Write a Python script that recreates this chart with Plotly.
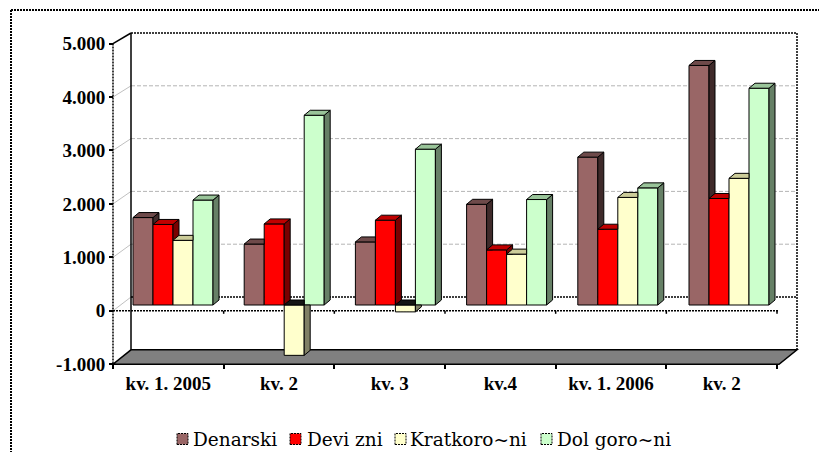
import plotly.graph_objects as go

# ---------------- data ----------------
categories = ["kv. 1. 2005", "kv. 2", "kv. 3", "kv.4", "kv. 1. 2006", "kv. 2"]
series_names = ["Denarski", "Devi zni", "Kratkoro~ni", "Dol goro~ni"]
denarski = [1650, 1150, 1190, 1900, 2790, 4520]
devizni = [1520, 1530, 1600, 1040, 1430, 2010]
kratkorocni = [1220, -950, -130, 960, 2030, 2390]
dolgorocni = [1980, 3580, 2940, 1990, 2210, 4090]
y_tick_values = [-1000, 0, 1000, 2000, 3000, 4000, 5000]
y_tick_labels = ["-1.000", "0", "1.000", "2.000", "3.000", "4.000", "5.000"]

series_values = [denarski, devizni, kratkorocni, dolgorocni]
front_colors = ["#996666", "#FF0000", "#FFFFCC", "#CCFFCC"]
top_colors = ["#6e4a4a", "#c00000", "#cccc99", "#99c499"]
side_colors = ["#3f2a2a", "#7a0000", "#808066", "#668066"]
neg_top_color = "#151515"

# ---------------- geometry (screen pixels) ----------------
W, H = 827, 452
OFF = 8  # page body margin: the figure starts at (8, 8) on screen
FW, FH = W - OFF, H - OFF
BAR = dict(x0=173.0, xs=111.2, y0=305.0, ys=0.053)       # plane of bars
FRONT = dict(x0=168.33, xs=110.67, y0=310.8, ys=0.05345)  # front edge (axis labels)
BACK = dict(x0=186.5, xs=111.0, y0=297.0, ys=0.0528)     # back wall
VMIN, VMAX = -1000, 5000
NCAT = len(categories)


def px(plane, u):
    return plane["x0"] + plane["xs"] * u


def py(plane, v):
    return plane["y0"] - plane["ys"] * v


def xr(plane):
    return [(OFF - plane["x0"]) / plane["xs"], (W - plane["x0"]) / plane["xs"]]


def yr(plane):
    return [(plane["y0"] - H) / plane["ys"], (plane["y0"] - OFF) / plane["ys"]]


def fx(p):
    return (p - OFF) / FW


def fy(p):
    return 1 - (p - OFF) / FH


bar_w = 20.0 / BAR["xs"]
group_w = bar_w * len(series_values)
DX = 6.0 / BAR["xs"]
DY = 5.0 / BAR["ys"]


def clean(poly):
    out = []
    for p in poly:
        if not out or abs(out[-1][0] - p[0]) > 1e-9 or abs(out[-1][1] - p[1]) > 1e-6:
            out.append(p)
    return out


def side_pieces(R, B, T, lo, hi):
    full = [(R, B), (R + DX, B + DY), (R + DX, T + DY), (R, T)]
    if lo is None:
        return [full]
    ts = {0.0, 1.0}
    for c in (lo, hi):
        for base in (B, T):
            t = (c - base) / DY
            if 0 < t < 1:
                ts.add(t)
    ts = sorted(ts)
    pieces = []
    up = lambda t: T + t * DY
    low = lambda t: max(B + t * DY, hi)
    up2 = lambda t: min(T + t * DY, lo)
    low2 = lambda t: B + t * DY
    for u_f, l_f in ((up, low), (up2, low2)):
        valid = [t for t in ts if u_f(t) >= l_f(t) - 1e-9]
        if len(valid) >= 2 and max(u_f(t) - l_f(t) for t in valid) > 1e-6:
            poly = [(R + t * DX, l_f(t)) for t in valid] + [(R + t * DX, u_f(t)) for t in reversed(valid)]
            pieces.append(clean(poly))
    return pieces


def top_piece(L, R, h, hi):
    if hi is None or hi <= h:
        return [(L, h), (R, h), (R + DX, h + DY), (L + DX, h + DY)]
    if hi >= h + DY:
        return [(L, h), (R, h), (R, h + DY), (L + DX, h + DY)]
    tk = (hi - h) / DY
    return [(L, h), (R, h), (R, hi), (R + tk * DX, hi), (R + DX, h + DY), (L + DX, h + DY)]


def poly_trace(polys, color):
    xs, ys = [], []
    for poly in polys:
        for (a, b) in poly + [poly[0]]:
            xs.append(a)
            ys.append(b)
        xs.append(None)
        ys.append(None)
    return go.Scatter(x=xs, y=ys, mode="lines", fill="toself", fillcolor=color,
                      line=dict(color="black", width=1), hoverinfo="skip",
                      showlegend=False, xaxis="x", yaxis="y")


fig = go.Figure()

# front faces of bars
for s, vals in enumerate(series_values):
    fig.add_trace(go.Bar(x=list(range(NCAT)), y=vals, name=series_names[s],
                         marker=dict(color=front_colors[s], line=dict(color="black", width=1)),
                         xaxis="x", yaxis="y", showlegend=False))

# side and top faces
for s, vals in enumerate(series_values):
    sides, tops, negtops = [], [], []
    for k in range(NCAT):
        v = vals[k]
        L = k - group_w / 2 + s * bar_w
        R = L + bar_w
        if s < len(series_values) - 1:
            nv = series_values[s + 1][k]
            lo, hi = min(0, nv), max(0, nv)
        else:
            lo = hi = None
        B, T = min(0, v), max(0, v)
        sides.extend(side_pieces(R, B, T, lo, hi))
        tp = top_piece(L, R, T, hi)
        (negtops if v < 0 else tops).append(tp)
    fig.add_trace(poly_trace(sides, side_colors[s]))
    fig.add_trace(poly_trace(tops, top_colors[s]))
    if negtops:
        fig.add_trace(poly_trace(negtops, neg_top_color))

# dummy trace on the front axes
fig.add_trace(go.Scatter(x=[0], y=[0], mode="markers", marker=dict(opacity=0),
                         xaxis="x2", yaxis="y2", hoverinfo="skip", showlegend=False))

# ---------------- walls, floor, lines (decoration) ----------------
shapes = []
DOT = "2px,1px"


def line(x0, y0, x1, y1, color="black", width=1, dash="solid", layer="below"):
    shapes.append(dict(type="line", xref="paper", yref="paper",
                       x0=fx(x0), y0=fy(y0), x1=fx(x1), y1=fy(y1),
                       line=dict(color=color, width=width, dash=dash), layer=layer))


fl, fr = px(FRONT, -0.5), px(FRONT, NCAT - 0.5)
bl, br = px(BACK, -0.5), px(BACK, NCAT - 0.5)

for v in y_tick_values:
    if 0 < v < VMAX:
        line(bl, py(BACK, v), br, py(BACK, v), color="#b4b4b4", width=1, dash="4px,2px")
    if VMIN < v < VMAX:
        line(fl, py(FRONT, v), bl, py(BACK, v), color="#c0c0c0", width=1)

shapes.append(dict(type="path", xref="paper", yref="paper", layer="below",
                   path="M {},{} L {},{} L {},{} L {},{} Z".format(
                       fx(fl), fy(py(FRONT, VMIN)), fx(fr + 2), fy(py(FRONT, VMIN)),
                       fx(br), fy(py(BACK, VMIN)), fx(bl), fy(py(BACK, VMIN))),
                   fillcolor="#808080", line=dict(color="black", width=1.5)))

line(bl, py(BACK, 0), br, py(BACK, 0), width=1.5, dash=DOT)
line(fl, py(FRONT, 0), fr + 2, py(FRONT, 0), width=1.5, dash=DOT)
for k in range(1, NCAT + 1):
    xx = px(FRONT, k - 0.5)
    line(xx, py(FRONT, 0), xx, py(FRONT, 0) + 3, width=1.5)

line(bl, py(BACK, VMAX), br, py(BACK, VMAX), width=1.5, dash=DOT)
line(br, py(BACK, VMAX), br, py(BACK, VMIN), width=1.5, dash=DOT)
line(bl, py(BACK, VMAX), bl, py(BACK, VMIN), width=1.5)
line(fl, py(FRONT, VMAX), bl, py(BACK, VMAX), width=1.5)
line(fl, py(FRONT, VMAX), fl, py(FRONT, VMIN), width=1.5, dash=DOT)

# outer border
line(11, 10, 11, H + 5, width=2, dash=DOT, layer="above")
line(11, 10, W + 5, 10, width=2, dash=DOT, layer="above")

# ---------------- manual legend ----------------
annotations = []
leg_sq_x = [177, 290, 395, 541]
leg_txt_x = [191, 305, 408, 555]
leg_y = 439
SQ = 11
for s in range(len(series_names)):
    shapes.append(dict(type="rect", xref="paper", yref="paper", layer="above",
                       x0=fx(leg_sq_x[s]), x1=fx(leg_sq_x[s] + SQ),
                       y0=fy(leg_y + SQ / 2), y1=fy(leg_y - SQ / 2),
                       fillcolor=front_colors[s], line=dict(color="black", width=1, dash=DOT)))
    annotations.append(dict(xref="paper", yref="paper", x=fx(leg_txt_x[s]), y=fy(leg_y),
                            xanchor="left", yanchor="middle", showarrow=False,
                            text=series_names[s],
                            font=dict(family="DejaVu Serif, Liberation Serif, serif", size=18.5, color="black")))

tick_font = dict(family="Liberation Serif, DejaVu Serif, serif", size=19, color="black", weight="bold")

fig.update_layout(
    width=FW, height=FH, margin=dict(l=0, r=0, t=0, b=0),
    paper_bgcolor="white", plot_bgcolor="rgba(0,0,0,0)",
    showlegend=False, barmode="group", bargap=1 - group_w, bargroupgap=0,
    shapes=shapes, annotations=annotations,
    xaxis=dict(domain=[0, 1], range=xr(BAR), visible=False, fixedrange=True),
    yaxis=dict(domain=[0, 1], range=yr(BAR), visible=False, fixedrange=True),
    xaxis2=dict(overlaying="x", range=xr(FRONT), anchor="free", position=fy(py(FRONT, VMIN)),
                side="bottom", tickmode="array", tickvals=list(range(NCAT)), ticktext=categories,
                ticks="", showgrid=False, zeroline=False, showline=False, tickfont=tick_font,
                ticklabelstandoff=6, fixedrange=True,
                minor=dict(tickmode="array", tickvals=[k - 0.5 for k in range(NCAT + 1)],
                           ticks="outside", ticklen=4, tickcolor="black", tickwidth=1.5, showgrid=False)),
    yaxis2=dict(overlaying="y", range=yr(FRONT), anchor="free", position=fx(fl), side="left",
                tickmode="array", tickvals=y_tick_values, ticktext=y_tick_labels,
                ticks="outside", ticklen=4, tickcolor="black", tickwidth=1.5,
                showgrid=False, zeroline=False, showline=False, tickfont=tick_font, fixedrange=True),
)

fig.write_html("out.html")
